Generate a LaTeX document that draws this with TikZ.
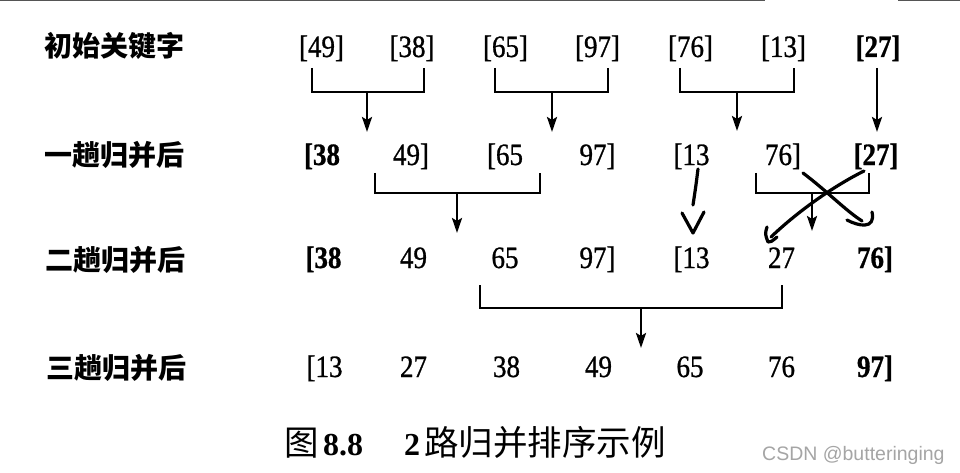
\documentclass[tikz,border=0pt]{standalone}
\usepackage{fontspec}
\setmainfont{Liberation Serif}
\newfontfamily\numfont[FakeStretch=0.87,FakeBold=0.9]{Liberation Serif}
\newfontfamily\cjk{Noto Sans CJK SC}
\newfontfamily\wmfont{Liberation Sans}
\usetikzlibrary{arrows.meta}
\definecolor{wm}{RGB}{165,165,165}
\definecolor{rulegray}{RGB}{85,85,85}
\begin{document}
\begin{tikzpicture}[x=1pt,y=-1pt,
  num/.style={anchor=base, inner sep=0pt, font=\numfont\fontsize{31}{31}\selectfont},
  numb/.style={num, font=\numfont\bfseries\fontsize{31}{31}\selectfont},
  lab/.style={anchor=base, inner sep=0pt, font=\cjk\bfseries\fontsize{28}{28}\selectfont},
  capcjk/.style={anchor=base west, inner sep=0pt, font=\cjk\fontsize{34.5}{34.5}\selectfont},
  capnum/.style={anchor=base west, inner sep=0pt, font=\bfseries\fontsize{32}{32}\selectfont},
  conn/.style={line width=2.6pt},
  arr/.style={line width=2.6pt, -{Stealth[length=15pt,width=10pt,inset=3pt]}},
  hand/.style={line width=3.2pt, line cap=round, line join=round}]
\useasboundingbox[fill=white] (0,0) rectangle (960,473);

% top rule
\draw[rulegray, line width=1.5pt] (0,0.75) -- (765,0.75);
\draw[rulegray, line width=1.5pt] (898,0.75) -- (960,0.75);

% labels
\node[lab] (l1) at (114,57) {初始关键字};
\node[lab] (l2) at (114,165) {一趟归并后};
\node[lab] (l3) at (115,270) {二趟归并后};
\node[lab] (l4) at (116,378) {三趟归并后};

% row 1
\node[num]  (a1) at (321.5,57) {[49]};
\node[num]  (a2) at (412,57)   {[38]};
\node[num]  (a3) at (505.5,57) {[65]};
\node[num]  (a4) at (597.5,57) {[97]};
\node[num]  (a5) at (690.5,57) {[76]};
\node[num]  (a6) at (783.5,57) {[13]};
\node[numb] (a7) at (878,57)   {[27]};

% row 2
\node[numb] (b1) at (322,165)   {[38};
\node[num]  (b2) at (411,165)   {49]};
\node[num]  (b3) at (505,165)   {[65};
\node[num]  (b4) at (597.5,165) {97]};
\node[num]  (b5) at (691.5,165) {[13};
\node[num]  (b6) at (783,165)   {76]};
\node[numb] (b7) at (876,165)   {[27]};

% row 3
\node[numb] (c1) at (323.5,268) {[38};
\node[num]  (c2) at (413.5,268) {49};
\node[num]  (c3) at (505,268)   {65};
\node[num]  (c4) at (597.5,268) {97]};
\node[num]  (c5) at (691.5,268) {[13};
\node[num]  (c6) at (781.5,268) {27};
\node[numb] (c7) at (875,268)   {76]};

% row 4
\node[num]  (d1) at (324.5,377) {[13};
\node[num]  (d2) at (413.5,377) {27};
\node[num]  (d3) at (506.5,377) {38};
\node[num]  (d4) at (598.5,377) {49};
\node[num]  (d5) at (690,377)   {65};
\node[num]  (d6) at (781.5,377) {76};
\node[numb] (d7) at (875,377)   {97]};

% merge brackets, pass 1
\coordinate (p1l) at (312,68);  \coordinate (p1r) at (424,68);
\coordinate (p1m) at (367,92);  \coordinate (p1t) at (367,132);
\draw[conn] (p1l) |- (p1m) -| (p1r);
\draw[arr] (p1m) -- (p1t);

\coordinate (p2l) at (495,68);  \coordinate (p2r) at (608,68);
\coordinate (p2m) at (552,92);  \coordinate (p2t) at (552,132);
\draw[conn] (p2l) |- (p2m) -| (p2r);
\draw[arr] (p2m) -- (p2t);

\coordinate (p3l) at (680,68);  \coordinate (p3r) at (794,68);
\coordinate (p3m) at (737,92);  \coordinate (p3t) at (737,131);
\draw[conn] (p3l) |- (p3m) -| (p3r);
\draw[arr] (p3m) -- (p3t);

\coordinate (p4s) at (877,68);  \coordinate (p4t) at (877,132);
\draw[arr] (p4s) -- (p4t);

% merge brackets, pass 2
\coordinate (q1l) at (375,173); \coordinate (q1r) at (540,173);
\coordinate (q1m) at (457,193); \coordinate (q1t) at (457,233);
\draw[conn] (q1l) |- (q1m) -| (q1r);
\draw[arr] (q1m) -- (q1t);

\coordinate (q2l) at (756,173); \coordinate (q2r) at (869,173);
\coordinate (q2m) at (812,193); \coordinate (q2t) at (812,231);
\draw[conn] (q2l) |- (q2m) -| (q2r);
\draw[arr] (q2m) -- (q2t);

% merge bracket, pass 3
\coordinate (r1l) at (480,285); \coordinate (r1r) at (782,285);
\coordinate (r1m) at (641,308); \coordinate (r1t) at (641,348);
\draw[conn] (r1l) |- (r1m) -| (r1r);
\draw[arr] (r1m) -- (r1t);

% hand-drawn corrections
\coordinate (h1a) at (698,169); \coordinate (h1b) at (693,205);
\draw[hand] (h1a) .. controls (696,185) .. (h1b);
\coordinate (h1l) at (682,213); \coordinate (h1t) at (693,233); \coordinate (h1r) at (704,212);
\draw[hand] (h1l) -- (h1t) -- (h1r);

\coordinate (h2a) at (864,171); \coordinate (h2b) at (771,237);
\draw[hand] (h2a) .. controls (830,188) and (795,214) .. (h2b);
\coordinate (h2h) at (767,227); \coordinate (h2k) at (768,242); \coordinate (h2e) at (777,237);
\draw[hand] (h2h) .. controls (765,234) .. (h2k) .. controls (771,242) .. (h2e);

\coordinate (h3a) at (803,173); \coordinate (h3b) at (862,221);
\draw[hand] (h3a) .. controls (828,192) and (845,210) .. (h3b);
\coordinate (h3h) at (847,220); \coordinate (h3e) at (872,212);
\draw[hand] (h3h) .. controls (858,226) and (876,230) .. (h3e);

% caption
\node[capcjk] (cap1) at (284,455) {图};
\node[capnum] (cap2) at (323,455) {8.8};
\node[capnum] (cap3) at (404,455) {2};
\node[capcjk] (cap4) at (424,455) {路归并排序示例};

% watermark
\node[anchor=base west, inner sep=0pt, text=wm, font=\wmfont\fontsize{19.5}{19.5}\selectfont] (wmk) at (762,460) {CSDN @butteringing};
\end{tikzpicture}
\end{document}
